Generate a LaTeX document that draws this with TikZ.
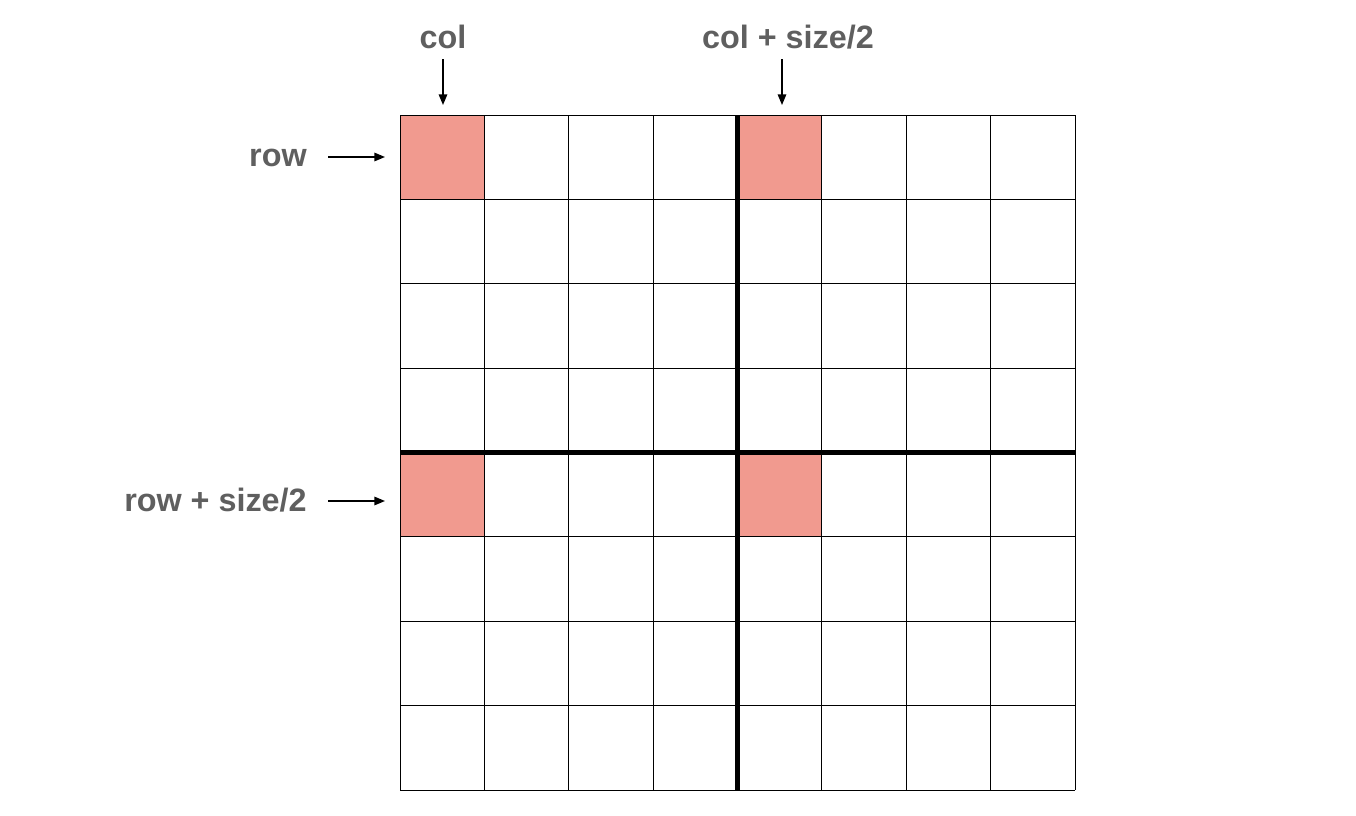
\documentclass[tikz,border=0pt]{standalone}
\usepackage{fontspec}
\setmainfont{Liberation Sans}
\usepackage{xcolor}
\usetikzlibrary{arrows.meta}

\definecolor{cellpink}{HTML}{F19A8F}
\definecolor{labelgray}{HTML}{5F5F5F}

\begin{document}
\begin{tikzpicture}[
    x=0.025cm, y=-0.025cm,
    lbl/.style={font=\fontsize{23}{27}\selectfont\bfseries, text=labelgray, inner sep=0pt},
    hot/.style={fill=cellpink, draw=none, minimum size=2.109cm, inner sep=0pt},
    thin/.style={line width=0.65pt},
    thick/.style={line width=3pt},
    arr/.style={-{Triangle[length=7.5pt, width=6pt]}, line width=1pt},
]
\useasboundingbox (0,0) rectangle (1356,816);
\def\cs{84.375}

% highlighted cells
\node[hot] (tl) at ({400+0.5*\cs},{115+0.5*\cs}) {};
\node[hot] (tr) at ({400+4.5*\cs},{115+0.5*\cs}) {};
\node[hot] (bl) at ({400+0.5*\cs},{115+4.5*\cs}) {};
\node[hot] (br) at ({400+4.5*\cs},{115+4.5*\cs}) {};

% grid
\foreach \i in {0,...,8} {
  \draw[thin] ({400+\i*\cs},115) -- ({400+\i*\cs},790);
  \draw[thin] (400,{115+\i*\cs}) -- (1075,{115+\i*\cs});
}
\draw[thick] ({400+4*\cs},115) -- ({400+4*\cs},790);
\draw[thick] (400,{115+4*\cs}) -- (1075,{115+4*\cs});

% labels
\node[lbl, anchor=base] (col) at (443,48) {col};
\node[lbl, anchor=base] (colh) at (788,48) {col + size/2};
\node[lbl, anchor=base east] (row) at (307,166) {row};
\node[lbl, anchor=base east] (rowh) at (307,511) {row + size/2};

\coordinate (colA) at (443,59);
\coordinate (colB) at (443,105);
\coordinate (colhA) at (782,59);
\coordinate (colhB) at (782,105);
\coordinate (rowA) at (328,157);
\coordinate (rowB) at (385,157);
\coordinate (rowhA) at (328,501);
\coordinate (rowhB) at (385,501);

\draw[arr] (colA) -- (colB);
\draw[arr] (colhA) -- (colhB);
\draw[arr] (rowA) -- (rowB);
\draw[arr] (rowhA) -- (rowhB);
\end{tikzpicture}
\end{document}
